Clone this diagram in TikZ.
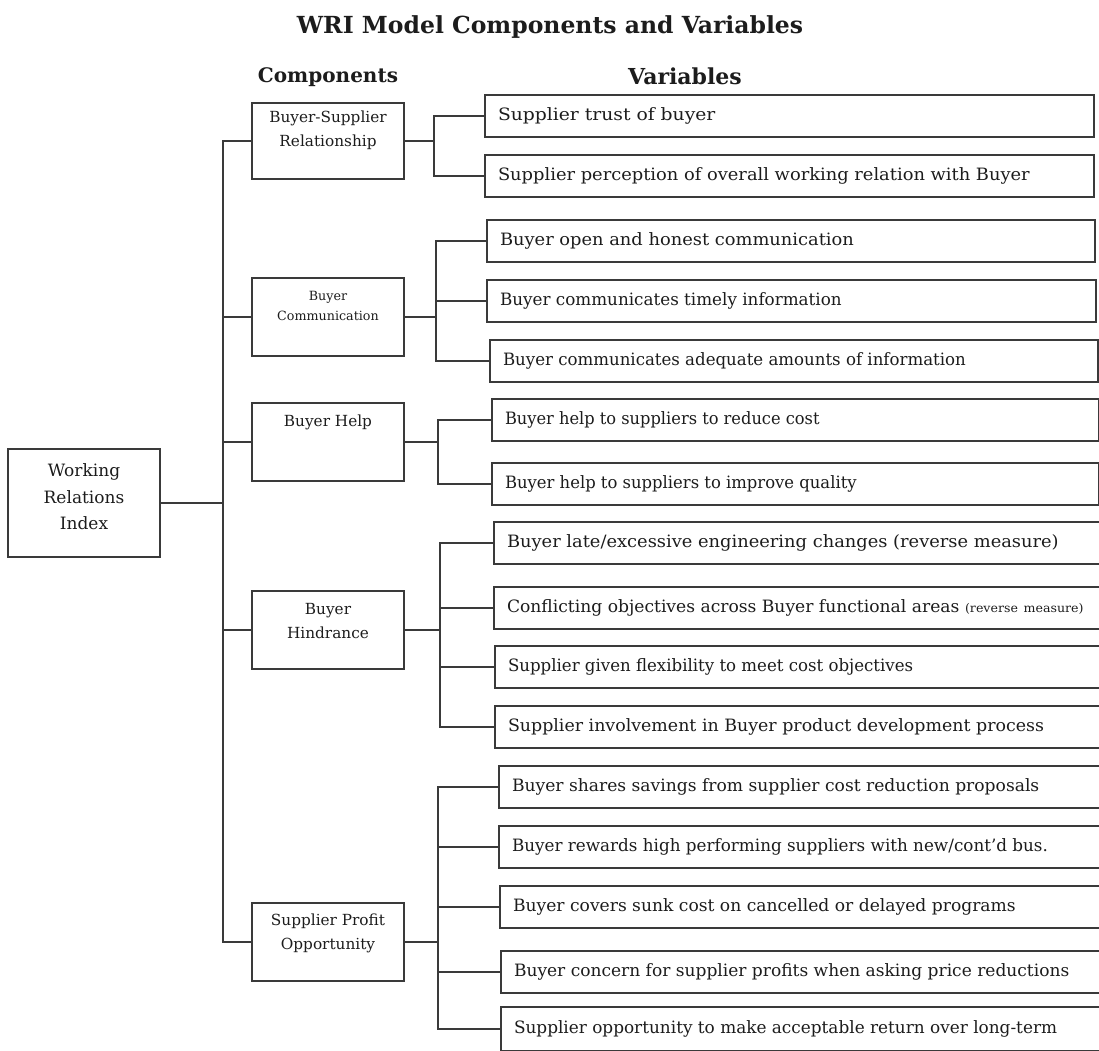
\documentclass[tikz,border=0pt]{standalone}
\usepackage{graphicx}
\usepackage{fontspec}
\setmainfont{DejaVu Serif}
\newfontfamily\widefont[FakeStretch=1.05]{DejaVu Serif}
\definecolor{linec}{HTML}{3A3A3A}
\definecolor{inkc}{HTML}{1C1C1C}
% horizontal squeeze of a single line of text
\newcommand\hsq[2]{\scalebox{#1}[1]{#2}}
\begin{document}
\begin{tikzpicture}[x=1pt,y=-1pt,
  wire/.style={draw=linec, line width=2pt, line cap=rect},
  box/.style={draw=linec, line width=2pt, rectangle, inner sep=0pt},
  varbox/.style={box, anchor=west, inner xsep=13pt, align=left, text=inkc,
    minimum height=42pt, font=\widefont\fontsize{17}{20}\selectfont},
  compbox/.style={box, minimum width=152pt, minimum height=78pt},
  comptext/.style={align=center, text=inkc, inner sep=0pt,
    font=\fontsize{15.3}{24}\selectfont},
  head/.style={text=inkc, font=\bfseries\fontsize{20}{24}\selectfont},
]
\useasboundingbox (0,0) rectangle (1099,1050);
\clip (0,0) rectangle (1099,1050);

% headings
\node[head, font=\bfseries\fontsize{23.5}{26}\selectfont] (title) at (550,27) {WRI Model Components and Variables};
\node[head] (hcomp) at (328,77) {Components};
\node[head, font=\bfseries\fontsize{22}{24}\selectfont] (hvar) at (685,76) {Variables};

% root
\node[box, minimum width=152pt, minimum height=108pt] (wri) at (84,503) {};
\node[comptext, font=\fontsize{17}{26.5}\selectfont] (wri-t) at (84,497) {Working\\Relations\\Index};

% components
\node[compbox, minimum height=76pt] (bsr) at (328,141) {};
\node[comptext] (bsr-t) at (328,130) {Buyer-Supplier\\Relationship};
\node[compbox] (comm) at (328,317) {};
\node[comptext, font=\fontsize{12.7}{20}\selectfont] (comm-t) at (328,306) {Buyer\\Communication};
\node[compbox] (help) at (328,442) {};
\node[comptext] (help-t) at (328,422) {Buyer Help};
\node[compbox] (hind) at (328,630) {};
\node[comptext] (hind-t) at (328,621) {Buyer\\Hindrance};
\node[compbox] (spo) at (328,942) {};
\node[comptext] (spo-t) at (328,933.5) {Supplier Profit\\Opportunity};

% variables
\node[varbox, text width=583pt] (v1) at (484,116) {\hsq{1.05}{Supplier trust of buyer}};
\node[varbox, text width=583pt] (v2) at (484,176) {Supplier perception of overall working relation with Buyer};
\node[varbox, text width=582pt] (v3) at (486,241) {Buyer open and honest communication};
\node[varbox, text width=583pt] (v4) at (486,301) {\hsq{0.94}{Buyer communicates timely information}};
\node[varbox, text width=582pt] (v5) at (489,361) {\hsq{0.93}{Buyer communicates adequate amounts of information}};
\node[varbox, text width=581pt] (v6) at (491,420) {\hsq{0.91}{Buyer help to suppliers to reduce cost}};
\node[varbox, text width=581pt] (v7) at (491,484) {\hsq{0.92}{Buyer help to suppliers to improve quality}};
\node[varbox, text width=640pt] (v8) at (493,543) {Buyer late/excessive engineering changes (reverse measure)};
\node[varbox, text width=640pt] (v9) at (493,608) {\hsq{0.96}{Conflicting objectives across Buyer functional areas} {\fontsize{12}{14}\selectfont(reverse measure)}};
\node[varbox, text width=640pt] (v10) at (494,667) {\hsq{0.93}{Supplier given flexibility to meet cost objectives}};
\node[varbox, text width=640pt] (v11) at (494,727) {\hsq{0.975}{Supplier involvement in Buyer product development process}};
\node[varbox, text width=640pt] (v12) at (498,787) {\hsq{0.96}{Buyer shares savings from supplier cost reduction proposals}};
\node[varbox, text width=640pt] (v13) at (498,847) {\hsq{0.94}{Buyer rewards high performing suppliers with new/cont’d bus.}};
\node[varbox, text width=640pt] (v14) at (499,907) {\hsq{0.96}{Buyer covers sunk cost on cancelled or delayed programs}};
\node[varbox, text width=640pt] (v15) at (500,972) {\hsq{0.955}{Buyer concern for supplier profits when asking price reductions}};
\node[varbox, text width=640pt, minimum height=44pt] (v16) at (500,1029) {\hsq{0.946}{Supplier opportunity to make acceptable return over long-term}};

% branch points
\coordinate (trunk) at (223,0);
\coordinate (s1) at (434,0);
\coordinate (s2) at (436,0);
\coordinate (s3) at (438,0);
\coordinate (s4) at (440,0);
\coordinate (s5) at (438,0);

% root to components
\draw[wire] (wri.east) -- (wri.east -| trunk);
\draw[wire] (bsr.west) -- (trunk |- bsr.west) -- (trunk |- spo.west) -- (spo.west);
\foreach \c in {comm,help,hind} \draw[wire] (trunk |- \c.west) -- (\c.west);

% components to variables
\draw[wire] (bsr.east) -- (bsr.east -| s1);
\draw[wire] (v1.west) -- (s1 |- v1.west) -- (s1 |- v2.west) -- (v2.west);

\draw[wire] (comm.east) -- (comm.east -| s2);
\draw[wire] (v3.west) -- (s2 |- v3.west) -- (s2 |- v5.west) -- (v5.west);
\draw[wire] (s2 |- v4.west) -- (v4.west);

\draw[wire] (help.east) -- (help.east -| s3);
\draw[wire] (v6.west) -- (s3 |- v6.west) -- (s3 |- v7.west) -- (v7.west);

\draw[wire] (hind.east) -- (hind.east -| s4);
\draw[wire] (v8.west) -- (s4 |- v8.west) -- (s4 |- v11.west) -- (v11.west);
\foreach \v in {v9,v10} \draw[wire] (s4 |- \v.west) -- (\v.west);

\draw[wire] (spo.east) -- (spo.east -| s5);
\draw[wire] (v12.west) -- (s5 |- v12.west) -- (s5 |- v16.west) -- (v16.west);
\foreach \v in {v13,v14,v15} \draw[wire] (s5 |- \v.west) -- (\v.west);
\end{tikzpicture}
\end{document}
